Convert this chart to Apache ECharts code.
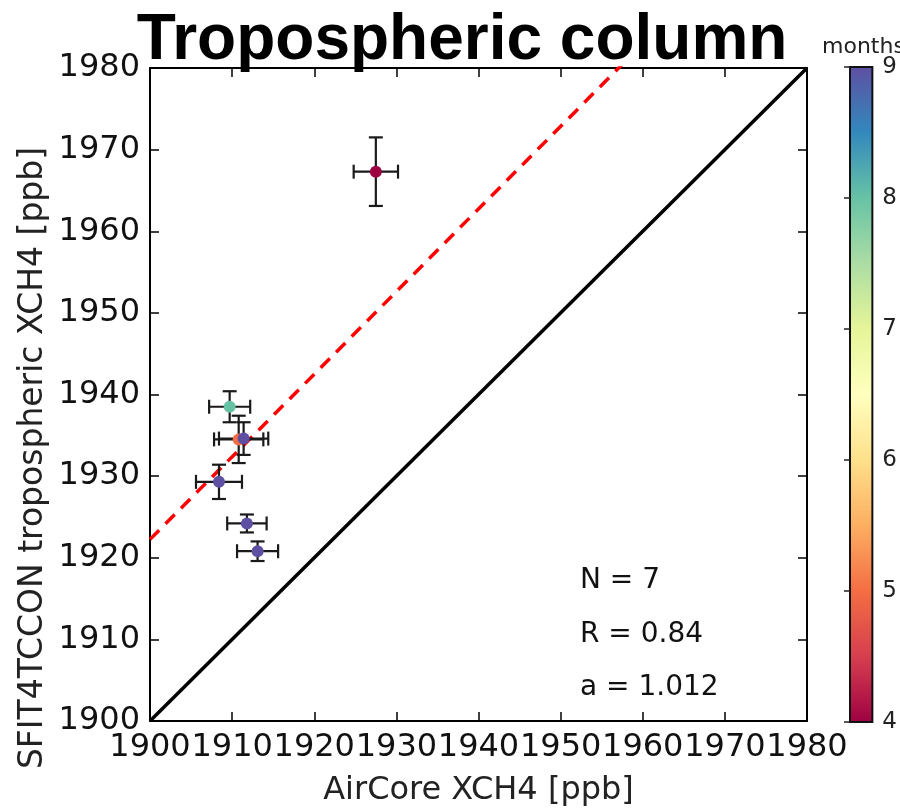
<!DOCTYPE html>
<html>
<head>
<meta charset="utf-8">
<script src="https://cdn.jsdelivr.net/npm/echarts@6/dist/echarts.min.js"></script>
<style>
  html, body { margin: 0; padding: 0; background: #fff; }
  #chart { width: 900px; height: 812px; }
</style>
</head>
<body>
<div id="chart"></div>
<script>
// Axis range and tick step (ppb)
const axisMin = 1900;
const axisMax = 1980;
const axisStep = 10;

// AirCore vs SFIT4TCCON tropospheric XCH4, one entry per profile
const aircoreX   = [1927.5, 1909.7, 1910.8, 1911.4, 1908.4, 1911.8, 1913.1];
const sfitY      = [1967.3, 1938.5, 1934.5, 1934.6, 1929.3, 1924.2, 1920.8];
const aircoreErr = [2.7, 2.5, 3.0, 3.0, 2.8, 2.4, 2.5];
const sfitErr    = [4.2, 1.9, 2.9, 2.0, 2.1, 1.1, 1.2];
const months     = [4, 8, 5, 9, 9, 9, 9];

// Regression statistics
const nPoints = 7;
const corrR = 0.84;
const fitSlope = 1.012;
const fitIntercept = -0.55;

// Colour bar (months)
const monthMin = 4;
const monthMax = 9;
const spectral = ['#9e0142', '#d53e4f', '#f46d43', '#fdae61', '#fee08b', '#ffffbf',
                  '#e6f598', '#abdda4', '#66c2a5', '#3288bd', '#5e4fa2'];

const txtFont = 'DejaVu Sans';
const plain = v => String(v);

const scatterData = aircoreX.map((x, i) => [x, sfitY[i], months[i]]);
const errData = aircoreX.map((x, i) => [x, sfitY[i], aircoreErr[i], sfitErr[i]]);
const oneToOne = [[axisMin, axisMin], [axisMax, axisMax]];
const fitLine = [axisMin, axisMax].map(x => [x, fitSlope * x + fitIntercept]);

// colour bar fill: same linear month -> colour ramp as the visualMap
const barGradient = new echarts.graphic.LinearGradient(0, 1, 0, 0,
  spectral.map((c, i) => ({ offset: i / (spectral.length - 1), color: c })));

const frameAxis = (extra) => Object.assign({
  type: 'value', min: axisMin, max: axisMax, interval: axisStep,
  axisLine: { show: true, onZero: false, lineStyle: { color: '#000', width: 2 } },
  axisTick: { show: true, inside: true, length: 9, lineStyle: { color: '#000', width: 1.5 } },
  splitLine: { show: false }
}, extra);

const chart = echarts.init(document.getElementById('chart'), null, { renderer: 'canvas' });

chart.setOption({
  animation: false,
  backgroundColor: '#fff',
  grid: [
    { left: 150, right: 93, top: 68, bottom: 90 },
    { left: 850, top: 67, width: 32, height: 655, show: true,
      borderColor: '#111', borderWidth: 2, backgroundColor: barGradient }
  ],
  xAxis: [
    frameAxis({
      gridIndex: 0, position: 'bottom',
      name: 'AirCore XCH4 [ppb]', nameLocation: 'middle', nameGap: 54,
      nameTextStyle: { fontFamily: txtFont, fontSize: 32, color: '#222' },
      axisLabel: { show: true, margin: 11, fontFamily: txtFont, fontSize: 32, color: '#111',
                   formatter: plain, showMinLabel: true, showMaxLabel: true, hideOverlap: false }
    }),
    { gridIndex: 1, type: 'value', min: 0, max: 1, show: false },
    frameAxis({ gridIndex: 0, position: 'top', axisLabel: { show: false } })
  ],
  yAxis: [
    frameAxis({
      gridIndex: 0, position: 'left',
      axisLabel: { show: true, margin: 10, fontFamily: txtFont, fontSize: 32, color: '#111',
                   formatter: plain, showMinLabel: true, showMaxLabel: true }
    }),
    {
      gridIndex: 1, type: 'value', position: 'right', min: monthMin, max: monthMax, interval: 1,
      axisLine: { show: false },
      axisTick: { show: true, inside: true, length: 6, lineStyle: { color: '#222', width: 1.5 } },
      axisLabel: { show: true, margin: 10, fontFamily: txtFont, fontSize: 23, color: '#222',
                   showMinLabel: true, showMaxLabel: true },
      splitLine: { show: false }
    },
    frameAxis({ gridIndex: 0, position: 'right', axisLabel: { show: false } })
  ],
  visualMap: {
    type: 'continuous',
    show: false,
    min: monthMin, max: monthMax,
    dimension: 2,
    seriesIndex: 3,
    inRange: { color: spectral }
  },
  graphic: [
    { type: 'text', z: 100,
      style: { text: 'Tropospheric column', x: 462, y: 41, align: 'center', verticalAlign: 'middle',
               font: 'bold 64px "Liberation Sans"', fill: '#000' } },
    { type: 'text', z: 100, x: 33, y: 458, rotation: Math.PI / 2,
      style: { text: 'SFIT4TCCON tropospheric XCH4 [ppb]', x: 0, y: 0, align: 'center',
               verticalAlign: 'middle', font: '33px "DejaVu Sans"', fill: '#222' } },
    { type: 'text', z: 100,
      style: { text: 'months', x: 822, y: 47, align: 'left', verticalAlign: 'middle',
               font: '22px "DejaVu Sans"', fill: '#222' } },
    { type: 'text', z: 100,
      style: { text: 'N = ' + nPoints, x: 580, y: 581, align: 'left', verticalAlign: 'middle',
               font: '28px "DejaVu Sans"', fill: '#111' } },
    { type: 'text', z: 100,
      style: { text: 'R = ' + corrR.toFixed(2), x: 580, y: 635, align: 'left', verticalAlign: 'middle',
               font: '28px "DejaVu Sans"', fill: '#111' } },
    { type: 'text', z: 100,
      style: { text: 'a = ' + fitSlope.toFixed(3), x: 580, y: 688, align: 'left', verticalAlign: 'middle',
               font: '28px "DejaVu Sans"', fill: '#111' } }
  ],
  series: [
    {
      name: '1:1', type: 'line', xAxisIndex: 0, yAxisIndex: 0,
      data: oneToOne, symbol: 'none', clip: true,
      lineStyle: { color: '#000', width: 3.5 }, silent: true, z: 2
    },
    {
      name: 'fit', type: 'line', xAxisIndex: 0, yAxisIndex: 0,
      data: fitLine, symbol: 'none', clip: true,
      lineStyle: { color: '#ff0000', width: 3.5, type: [13, 9] }, silent: true, z: 3
    },
    {
      name: 'errors', type: 'custom', xAxisIndex: 0, yAxisIndex: 0,
      data: errData, encode: { x: 0, y: 1 }, silent: true, z: 4,
      renderItem: function (params, api) {
        const x = api.value(0), y = api.value(1), ex = api.value(2), ey = api.value(3);
        const l = api.coord([x - ex, y]), r = api.coord([x + ex, y]);
        const t = api.coord([x, y + ey]), b = api.coord([x, y - ey]);
        const cap = 7;
        const st = { stroke: '#1a1a1a', lineWidth: 2.2 };
        const seg = (x1, y1, x2, y2) => ({ type: 'line', shape: { x1, y1, x2, y2 }, style: st });
        return {
          type: 'group',
          children: [
            seg(l[0], l[1], r[0], r[1]),
            seg(t[0], t[1], b[0], b[1]),
            seg(l[0], l[1] - cap, l[0], l[1] + cap),
            seg(r[0], r[1] - cap, r[0], r[1] + cap),
            seg(t[0] - cap, t[1], t[0] + cap, t[1]),
            seg(b[0] - cap, b[1], b[0] + cap, b[1])
          ]
        };
      }
    },
    {
      name: 'profiles', type: 'scatter', xAxisIndex: 0, yAxisIndex: 0,
      data: scatterData, symbol: 'circle', symbolSize: 12, z: 5,
      itemStyle: { opacity: 1 }, emphasis: { disabled: true }
    }
  ]
});
</script>
</body>
</html>
